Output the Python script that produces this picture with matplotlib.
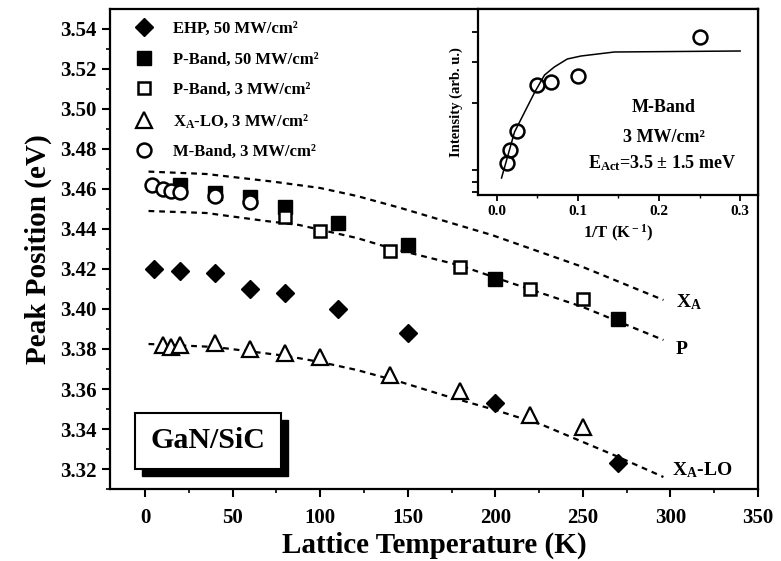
import matplotlib
matplotlib.use("Agg")
import matplotlib.pyplot as plt
from matplotlib.patches import Rectangle

plt.rcParams['font.family'] = ['Liberation Serif', 'DejaVu Serif']
plt.rcParams['font.weight'] = 'bold'
plt.rcParams['axes.labelweight'] = 'bold'
plt.rcParams['mathtext.fontset'] = 'custom'
plt.rcParams['mathtext.rm'] = 'Liberation Serif:bold'
plt.rcParams['mathtext.bf'] = 'Liberation Serif:bold'
plt.rcParams['mathtext.it'] = 'Liberation Serif:bold'

# main panel: peak positions vs lattice temperature
ehp_T = [5, 20, 40, 60, 80, 110, 150, 200, 270]
ehp_E = [3.420, 3.419, 3.418, 3.410, 3.408, 3.400, 3.388, 3.353, 3.323]

p50_T = [20, 40, 60, 80, 110, 150, 200, 270]
p50_E = [3.462, 3.458, 3.456, 3.451, 3.443, 3.432, 3.415, 3.395]

p3_T = [80, 100, 140, 180, 220, 250]
p3_E = [3.446, 3.439, 3.429, 3.421, 3.410, 3.405]

xlo_T = [10, 15, 20, 40, 60, 80, 100, 140, 180, 220, 250]
xlo_E = [3.382, 3.381, 3.382, 3.383, 3.380, 3.378, 3.376, 3.367, 3.359, 3.347, 3.341]

m_T = [4, 10, 15, 20, 40, 60]
m_E = [3.462, 3.460, 3.459, 3.4585, 3.4565, 3.4535]

# dashed guide curves
xa_fit_T = [2, 35, 73, 100, 121, 146, 171, 198, 250, 296]
xa_fit_E = [3.4687, 3.4675, 3.4637, 3.4605, 3.4565, 3.4505, 3.444, 3.437, 3.421, 3.4045]
p_fit_T = [2, 35, 69, 88, 121, 140, 179, 204, 250, 296]
p_fit_E = [3.449, 3.448, 3.444, 3.442, 3.4355, 3.4305, 3.422, 3.4145, 3.401, 3.3845]
lo_fit_T = [2, 40, 81, 100, 121, 146, 170, 200, 227, 269, 296]
lo_fit_E = [3.3825, 3.381, 3.3765, 3.3735, 3.3695, 3.3635, 3.357, 3.3495, 3.342, 3.3265, 3.316]

# inset: M-band intensity vs 1/T
inv_T = [0.0125, 0.0167, 0.025, 0.05, 0.0667, 0.1, 0.25]
m_int = [32, 45, 64, 110, 113, 119, 158]
fit_invT = [0.006, 0.022, 0.047, 0.059, 0.071, 0.087, 0.104, 0.145, 0.3]
fit_int = [17, 63, 103, 120, 128, 136, 139, 143, 144]

fig = plt.figure(figsize=(7.81, 5.61), dpi=100)
ax = fig.add_axes([110 / 781, 1 - 489 / 561, (758 - 110) / 781, (489 - 9) / 561])

dash = (0, (2.6, 2.2))
for tt, ee in [(xa_fit_T, xa_fit_E), (p_fit_T, p_fit_E), (lo_fit_T, lo_fit_E)]:
    ax.plot(tt, ee, color='black', lw=1.6, linestyle=dash, zorder=1)

h1, = ax.plot(ehp_T, ehp_E, 'D', ms=9.5, color='black', ls='none', zorder=3,
              label='EHP, 50 MW/cm²')
h2, = ax.plot(p50_T, p50_E, 's', ms=10, color='black', ls='none', zorder=3,
              label='P-Band, 50 MW/cm²')
h3, = ax.plot(p3_T, p3_E, 's', ms=9, mfc='white', mec='black', mew=1.8, ls='none',
              zorder=4, label='P-Band, 3 MW/cm²')
h4, = ax.plot(xlo_T, xlo_E, '^', ms=11, mfc='white', mec='black', mew=1.6, ls='none',
              zorder=4, label=r'X$_{\rm A}$-LO, 3 MW/cm²')
h5, = ax.plot(m_T, m_E, 'o', ms=10, mfc='white', mec='black', mew=1.8, ls='none',
              zorder=4, label='M-Band, 3 MW/cm²')

ax.text(303, 3.4035, r'X$_{\rm A}$', fontsize=14, va='center', ha='left')
ax.text(303, 3.380, 'P', fontsize=14, va='center', ha='left')
ax.text(301, 3.3195, r'X$_{\rm A}$-LO', fontsize=14, va='center', ha='left')

# GaN/SiC box with drop shadow
ax.add_patch(Rectangle((-1.5, 3.3165), 83, 0.028, facecolor='black', edgecolor='black',
                       zorder=5))
ax.add_patch(Rectangle((-5.5, 3.320), 83, 0.028, facecolor='white', edgecolor='black',
                       lw=1.5, zorder=6))
ax.text(36, 3.334, 'GaN/SiC', fontsize=21.5, ha='center', va='center', zorder=7)

ax.set_xlim(-20, 350)
ax.set_ylim(3.31, 3.55)
ax.set_xticks([0, 50, 100, 150, 200, 250, 300, 350])
ax.set_xticks([25, 75, 125, 175, 225, 275, 325], minor=True)
ax.set_yticks([3.32 + 0.02 * i for i in range(12)])
ax.set_yticks([3.31 + 0.02 * i for i in range(12)], minor=True)
ax.set_yticklabels(['%.2f' % (3.32 + 0.02 * i) for i in range(12)])
ax.tick_params(labelsize=15, width=1.5, length=6, direction='out')
ax.tick_params(which='minor', width=1.2, length=3, direction='out')
ax.tick_params(axis='x', pad=8)
for s in ax.spines.values():
    s.set_linewidth(1.6)
ax.set_xlabel('Lattice Temperature (K)', fontsize=21, labelpad=2)
ax.set_ylabel('Peak Position (eV)', fontsize=21, labelpad=6)

ax.legend(handles=[h1, h2, h3, h4, h5], loc='upper left', bbox_to_anchor=(0.021, 0.999),
          frameon=False, fontsize=12, handlelength=1.0, handletextpad=1.25,
          labelspacing=0.86, borderaxespad=0.3)

# inset
axi = fig.add_axes([478 / 781, 1 - 195 / 561, (758 - 478) / 781, (195 - 9) / 561])
axi.plot(fit_invT, fit_int, color='black', lw=1.1, zorder=2)
axi.plot(inv_T, m_int, 'o', ms=10, mfc='none', mec='black', mew=1.8, ls='none', zorder=3)
axi.set_xlim(-0.023, 0.322)
axi.set_ylim(0, 186)
axi.set_xticks([0.0, 0.1, 0.2, 0.3])
axi.set_xticks([0.05, 0.15, 0.25], minor=True)
axi.set_xticklabels(['0.0', '0.1', '0.2', '0.3'])
axi.set_yticks([3, 13, 25, 92, 133, 163])
axi.set_yticklabels([])
axi.tick_params(labelsize=11, width=1.3, length=4, direction='out')
axi.tick_params(which='minor', width=1.0, length=2.5, direction='out')
for s in axi.spines.values():
    s.set_linewidth(1.6)
axi.set_xlabel(r'1/T (K$^{\rm -1}$)', fontsize=12, labelpad=3)
axi.set_ylabel('Intensity (arb. u.)', fontsize=10.5, labelpad=3)
axi.text(0.206, 88, 'M-Band', fontsize=13, ha='center', va='center')
axi.text(0.206, 58, '3 MW/cm²', fontsize=13, ha='center', va='center')
axi.text(0.204, 32, r'E$_{\rm Act}$=3.5 ± 1.5 meV', fontsize=13, ha='center', va='center')

fig.savefig('out.png', dpi=100)
